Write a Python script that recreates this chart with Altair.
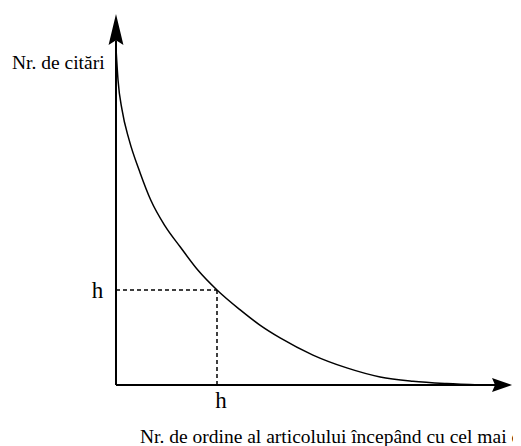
import altair as alt
import pandas as pd

# Curve: number of citations vs. rank of the article (h-index illustration)
rank = [0, 0.4, 1.2, 2.6, 4.8, 6.9, 9.7, 12.7, 16.2, 20, 24.6, 28.5, 32.5, 39.0, 45.7, 52.3, 58.8, 65.5, 72.1]
citations = [70.9, 64.2, 57.9, 51.6, 44.6, 38.9, 33.5, 29.1, 24.2, 20, 15.8, 12.6, 9.9, 6.3, 3.6, 1.7, 0.8, 0.3, 0]

h_value = 20
y_axis_top = 72.6
x_axis_end = 75.4

label_texts = ["Nr. de citări", "h", "h", "Nr. de ordine al articolului începând cu cel mai citat"]
label_x = [-20.6, -3.66, 20.8, 4.75]
label_y = [66.5, 18.3, -4.84, -12.2]
label_size = [19.5, 23, 23, 19.5]
label_align = ["left", "center", "center", "left"]

XS = alt.Scale(domain=[-21.386, 78.614], nice=False, zero=False)
YS = alt.Scale(domain=[-12.842, 79.368], nice=False, zero=False)
FONT = "Liberation Serif, Times New Roman, DejaVu Serif, serif"

curve_df = pd.DataFrame({"r": rank, "c": citations})
curve = alt.Chart(curve_df).mark_line(color="black", strokeWidth=1.5, interpolate="monotone", clip=False).encode(
    x=alt.X("r:Q", scale=XS, axis=None),
    y=alt.Y("c:Q", scale=YS, axis=None),
)

axes_df = pd.DataFrame({
    "x": [0, 0], "y": [0, 0],
    "x2": [0, x_axis_end], "y2": [y_axis_top, 0],
})
axes = alt.Chart(axes_df).mark_rule(color="black", strokeWidth=2).encode(
    x=alt.X("x:Q", scale=XS, axis=None), y=alt.Y("y:Q", scale=YS, axis=None),
    x2="x2:Q", y2="y2:Q",
)

dash_df = pd.DataFrame({
    "x": [0, h_value], "y": [h_value, h_value],
    "x2": [h_value, h_value], "y2": [h_value, 0],
})
dashes = alt.Chart(dash_df).mark_rule(color="black", strokeWidth=1.5, strokeDash=[4, 3]).encode(
    x=alt.X("x:Q", scale=XS, axis=None), y=alt.Y("y:Q", scale=YS, axis=None),
    x2="x2:Q", y2="y2:Q",
)

up_arrow = alt.Chart(pd.DataFrame({"x": [0], "y": [74.84]})).mark_point(
    shape="M0,-1 L0.48,1 L0,0.7 L-0.48,1 Z", size=961, filled=True, color="black", opacity=1
).encode(x=alt.X("x:Q", scale=XS, axis=None), y=alt.Y("y:Q", scale=YS, axis=None))

right_arrow = alt.Chart(pd.DataFrame({"x": [76.44], "y": [0]})).mark_point(
    shape="M1,0 L-1,0.7 L-0.7,0 L-1,-0.7 Z", size=400, filled=True, color="black", opacity=1
).encode(x=alt.X("x:Q", scale=XS, axis=None), y=alt.Y("y:Q", scale=YS, axis=None))

texts = []
for t, lx, ly, s, a in zip(label_texts, label_x, label_y, label_size, label_align):
    texts.append(
        alt.Chart(pd.DataFrame({"x": [lx], "y": [ly], "t": [t]})).mark_text(
            font=FONT, fontSize=s, align=a, baseline="alphabetic", color="black"
        ).encode(x=alt.X("x:Q", scale=XS, axis=None), y=alt.Y("y:Q", scale=YS, axis=None), text="t:N")
    )

chart = alt.layer(axes, dashes, curve, up_arrow, right_arrow, *texts).properties(
    width=505, height=438, padding=0, autosize=alt.AutoSizeParams(type="none")
).configure_view(stroke=None)

chart.save("out.html", embed_options={"renderer": "svg", "actions": False})
